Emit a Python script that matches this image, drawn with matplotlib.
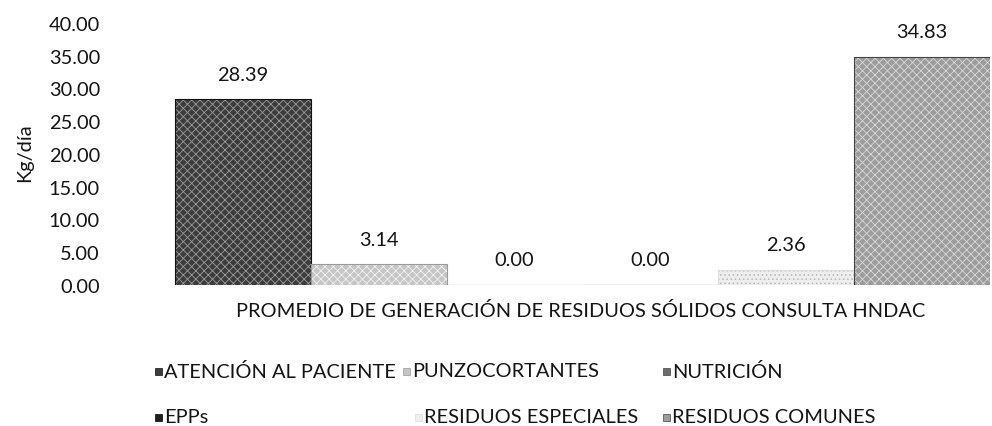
import matplotlib
matplotlib.use("Agg")
import matplotlib.pyplot as plt
from matplotlib.patches import Rectangle
import numpy as np

plt.rcParams['font.family'] = ['Lato', 'DejaVu Sans']
plt.rcParams['hatch.linewidth'] = 0.6

categories = ["ATENCIÓN AL PACIENTE", "PUNZOCORTANTES", "NUTRICIÓN",
              "EPPs", "RESIDUOS ESPECIALES", "RESIDUOS COMUNES"]
values = [28.39, 3.14, 0.00, 0.00, 2.36, 34.83]
colors = ["#3c3c3c", "#c6c6c6", "#6e6e6e", "#1e1e1e", "#eeeeee", "#9c9c9c"]
hatch_colors = ["#9a9a9a", "#f2f2f2", "#bbbbbb", "#555555", "#b8b8b8", "#d8d8d8"]
hatches = ["xxxx", "xxxx", "xxxx", "", "....", "xxxx"]
edges = ["#111111", "#9a9a9a", "#444444", "#000000", "#dddddd", "#444444"]
y_ticks = [0, 5, 10, 15, 20, 25, 30, 35, 40]
x_title = "PROMEDIO DE GENERACIÓN DE RESIDUOS SÓLIDOS CONSULTA HNDAC"
y_title = "Kg/día"

W, H = 992, 427
TXT = "#141414"
fig = plt.figure(figsize=(W / 100, H / 100), dpi=100)
renderer = fig.canvas.get_renderer()

# size the text so the category title spans its intended width
probe = fig.text(0, 0, x_title, fontsize=14)
fs = 14 * 688 / probe.get_window_extent(renderer).width
probe.remove()

ax = fig.add_axes([108 / W, 1 - 286 / H, (990 - 108) / W, (286 - 24) / H])

pos = np.arange(len(values))
for i, v in enumerate(values):
    ax.bar(pos[i], v, width=1.0, color=colors[i], edgecolor="none", linewidth=0)
    if hatches[i]:
        ax.bar(pos[i], v, width=1.0, facecolor="none", edgecolor=hatch_colors[i],
               hatch=hatches[i], linewidth=0)
    ax.bar(pos[i], v, width=1.0, facecolor="none", edgecolor=edges[i], linewidth=0.8)
    ax.annotate(f"{v:.2f}", (pos[i], v), xytext=(0, 18), textcoords="offset points",
                ha="center", va="center", fontsize=fs, color=TXT)

ax.set_xlim(-0.993, 5.5)
ax.set_ylim(0, 40)
ax.set_yticks(y_ticks)
ax.set_yticklabels([f"{t:.2f}" for t in y_ticks], fontsize=fs, color=TXT)
ax.set_xticks([])
ax.tick_params(axis="y", length=0, pad=5.8)
for s in ax.spines.values():
    s.set_visible(False)

fig.text(25 / W, 1 - 153 / H, y_title, rotation=90, ha="center", va="center",
         fontsize=fs, color=TXT)
fig.text(581 / W, 1 - 311 / H, x_title, ha="center", va="center",
         fontsize=fs, color=TXT)

# legend laid out in two rows of three entries
legend_rows = [[0, 1, 2], [3, 4, 5]]
row_y = [372, 418]
col_marker_x = [[155, 403, 663], [155, 415, 663]]
msize = 7
for r, row in enumerate(legend_rows):
    for c, idx in enumerate(row):
        mx = col_marker_x[r][c]
        my = row_y[r]
        fig.patches.append(Rectangle((mx / W, 1 - (my + msize / 2) / H), msize / W, msize / H,
                                     transform=fig.transFigure, facecolor=colors[idx],
                                     edgecolor=edges[idx], linewidth=0.5))
        fig.text((mx + msize + 2) / W, 1 - my / H, categories[idx], ha="left", va="center",
                 fontsize=fs, color=TXT)

fig.savefig("out.png", dpi=100)
